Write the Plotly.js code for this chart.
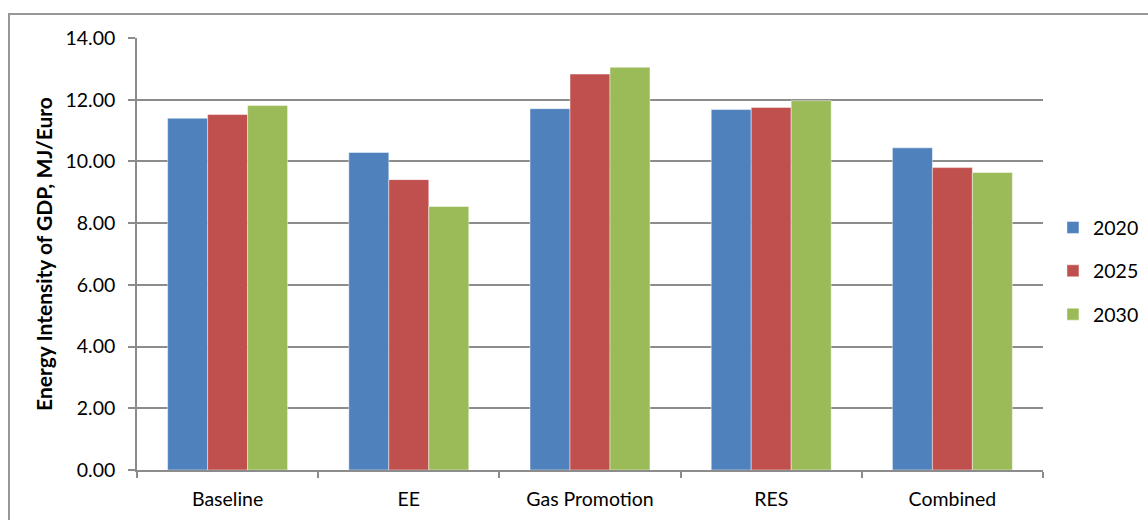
<!DOCTYPE html>
<html>
<head>
<meta charset="utf-8">
<script src="https://cdn.plot.ly/plotly-3.0.1.min.js"></script>
<style>
  html, body { margin: 0; padding: 0; background: #fff; }
  #wrap { position: relative; width: 1148px; height: 520px; overflow: hidden; }
  #chart { position: absolute; left: 0; top: 0; width: 1148px; height: 520px; }
  #frame { position: absolute; left: 8px; top: 13px; width: 1200px; height: 600px;
           border-left: 2px solid #989898; border-top: 2px solid #989898; pointer-events: none; }
</style>
</head>
<body>
<div id="wrap">
  <div id="chart"></div>
  <div id="frame"></div>
</div>
<script>
const categories = ["Baseline", "EE", "Gas Promotion", "RES", "Combined"];
const seriesNames = ["2020", "2025", "2030"];
const values2020 = [11.40, 10.29, 11.71, 11.68, 10.44];
const values2025 = [11.52, 9.41, 12.83, 11.75, 9.80];
const values2030 = [11.81, 8.54, 13.05, 11.97, 9.64];
const colors = ["#4F81BD", "#C0504D", "#9BBB59"];
const yTitle = "Energy Intensity of GDP, MJ/Euro";

const allValues = [values2020, values2025, values2030];
const font = "Lato, 'Open Sans', sans-serif";

const traces = allValues.map((vals, i) => ({
  type: "bar",
  name: seriesNames[i],
  x: categories,
  y: vals,
  legendgroup: "g" + i,
  marker: { color: colors[i], line: { color: "rgba(255,255,255,0.45)", width: 1 } },
  hoverinfo: "x+y+name"
}));

const layout = {
  width: 1148,
  height: 520,
  margin: { l: 137, r: 105, t: 38, b: 50, autoexpand: false },
  paper_bgcolor: "#ffffff",
  plot_bgcolor: "#ffffff",
  font: { family: font, size: 19.5, color: "#000000" },
  barmode: "group",
  bargap: 0.338,
  bargroupgap: 0,
  showlegend: true,
  legend: {
    x: 1.011, xanchor: "left",
    y: 0.46, yanchor: "middle",
    font: { family: font, size: 19.5, color: "#000" },
    traceorder: "grouped",
    tracegroupgap: 15,
    bgcolor: "rgba(0,0,0,0)"
  },
  xaxis: {
    type: "category",
    tickson: "boundaries",
    ticks: "outside",
    ticklen: 6,
    tickwidth: 1.5,
    tickcolor: "#8c8c8c",
    showline: true,
    linecolor: "#8c8c8c",
    linewidth: 1.5,
    showgrid: false,
    ticklabelstandoff: 11,
    tickfont: { family: font, size: 19.5, color: "#000" }
  },
  yaxis: {
    range: [0, 14],
    dtick: 2,
    tick0: 0,
    tickformat: ".2f",
    ticks: "outside",
    ticklen: 7,
    tickwidth: 1.5,
    tickcolor: "#8c8c8c",
    showline: true,
    linecolor: "#8c8c8c",
    linewidth: 1.5,
    showgrid: true,
    gridcolor: "#8c8c8c",
    gridwidth: 1.5,
    zeroline: false,
    ticklabelstandoff: 9,
    tickfont: { family: font, size: 19.5, color: "#000" },
    title: {
      text: yTitle,
      standoff: 7,
      font: { family: font, size: 21, color: "#000", weight: "bold" }
    }
  }
};

Plotly.newPlot("chart", traces, layout, { displayModeBar: false });
</script>
</body>
</html>
